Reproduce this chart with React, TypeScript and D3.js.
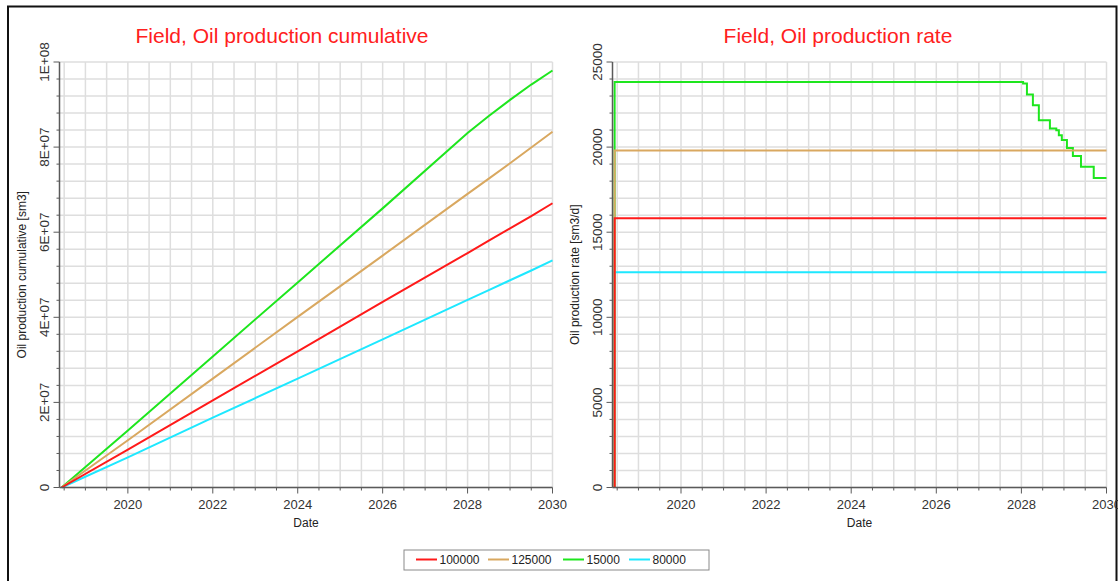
import React from "react";
import * as d3 from "d3";

// ---------- DATA ----------
const seriesNames = ["100000", "125000", "15000", "80000"];
const seriesColors = ["#ff1a1a", "#d9a860", "#1ee61e", "#1ee8ff"];
const drawOrder = [3, 2, 1, 0];

// cumulative (sm3, in millions) at dates (decimal years)
const cumDates = [2018.44, 2020, 2022, 2024, 2026, 2028, 2028.5, 2029, 2029.5, 2030];
const cum100000 = [0, 8.9, 20.5, 32.0, 43.6, 55.1, 58.0, 60.9, 63.8, 66.8];
const cum125000 = [0, 11.1, 25.6, 40.1, 54.5, 69.0, 72.6, 76.2, 79.9, 83.6];
const cum15000 = [0, 13.4, 30.8, 48.2, 65.6, 83.3, 87.3, 91.1, 94.7, 98.0];
const cum80000 = [0, 7.1, 16.4, 25.6, 34.8, 44.1, 46.4, 48.7, 51.0, 53.4];

// rates (sm3/d), step-after
const rateDates100000 = [2018.44, 2018.44, 2030];
const rate100000 = [0, 15820, 15820];
const rateDates125000 = [2018.44, 2018.44, 2030];
const rate125000 = [0, 19800, 19800];
const rateDates15000 = [2018.44, 2018.44, 2028.04, 2028.13, 2028.27, 2028.41, 2028.67, 2028.82, 2028.88, 2028.95, 2029.07, 2029.21, 2029.4, 2029.7, 2030];
const rate15000 = [0, 23820, 23740, 23090, 22460, 21580, 21090, 20990, 20700, 20410, 19940, 19480, 18840, 18190, 18190];
const rateDates80000 = [2018.44, 2018.44, 2030];
const rate80000 = [0, 12650, 12650];

const xTickYears = [2020, 2022, 2024, 2026, 2028, 2030];
const cumTicks = [0, 20, 40, 60, 80, 100];
const cumTickLabels = ["0", "2E+07", "4E+07", "6E+07", "8E+07", "1E+08"];
const rateTicks = [0, 5000, 10000, 15000, 20000, 25000];
const rateTickLabels = ["0", "5000", "10000", "15000", "20000", "25000"];

const FONT = "'Liberation Sans', Arial, sans-serif";

type Pt = [number, number];

const cumSeries: Pt[][] = [cum100000, cum125000, cum15000, cum80000].map((vals) =>
  vals.map((v, i) => [cumDates[i], v] as Pt)
);
const rateSeries: Pt[][] = [
  [rateDates100000, rate100000],
  [rateDates125000, rate125000],
  [rateDates15000, rate15000],
  [rateDates80000, rate80000],
].map(([ds, vs]) => (vs as number[]).map((v, i) => [(ds as number[])[i], v] as Pt));

interface PanelProps {
  id: string;
  left: number;
  right: number;
  top: number;
  bottom: number;
  titleX: number;
  yMax: number;
  gridStep: number;
  ticks: number[];
  tickLabels: string[];
  title: string;
  yTitle: string;
  data: Pt[][];
  step: boolean;
}

function Panel(p: PanelProps) {
  const x = d3.scaleLinear().domain([2018.39, 2030]).range([p.left, p.right]);
  const y = d3.scaleLinear().domain([0, p.yMax]).range([p.bottom, p.top]);
  const xGrid = d3.range(2018.5, 2030.001, 0.5);
  const yGrid = d3.range(0, p.yMax + 1e-9, p.gridStep);
  const line = d3
    .line<Pt>()
    .x((d) => x(d[0]))
    .y((d) => y(d[1]))
    .curve(p.step ? d3.curveStepAfter : d3.curveLinear);
  const cx = (p.left + p.right) / 2;
  const axisColor = "#5a5a5a";
  return (
    <g>
      <defs>
        <clipPath id={p.id}>
          <rect x={p.left} y={p.top - 2} width={p.right - p.left + 1} height={p.bottom - p.top + 3} />
        </clipPath>
      </defs>
      <text x={p.titleX} y={43} textAnchor="middle" fontSize={21} fill="#ff2020" fontFamily={FONT}>
        {p.title}
      </text>
      {xGrid.map((g) => (
        <line key={"xg" + g} x1={x(g)} x2={x(g)} y1={p.top} y2={p.bottom} stroke="#dedede" strokeWidth={1.5} />
      ))}
      {yGrid.map((g) => (
        <line key={"yg" + g} x1={p.left} x2={p.right} y1={y(g)} y2={y(g)} stroke="#dedede" strokeWidth={1.5} />
      ))}
      <g clipPath={`url(#${p.id})`}>
        {drawOrder.map((i) => (
          <path key={i} d={line(p.data[i]) || ""} fill="none" stroke={seriesColors[i]} strokeWidth={2} />
        ))}
      </g>
      {/* axes */}
      <line x1={p.left} x2={p.left} y1={p.top} y2={p.bottom} stroke={axisColor} strokeWidth={1.5} />
      <line x1={p.left} x2={p.right} y1={p.bottom} y2={p.bottom} stroke={axisColor} strokeWidth={1.5} />
      {yGrid.map((g) => {
        const major = p.ticks.some((t) => Math.abs(t - g) < 1e-6);
        return (
          <line key={"yt" + g} x1={p.left - (major ? 6 : 3)} x2={p.left} y1={y(g)} y2={y(g)} stroke={axisColor} strokeWidth={1} />
        );
      })}
      {xGrid.map((g) => {
        const major = xTickYears.some((t) => Math.abs(t - g) < 1e-6);
        return (
          <line key={"xt" + g} x1={x(g)} x2={x(g)} y1={p.bottom} y2={p.bottom + (major ? 6 : 3)} stroke={axisColor} strokeWidth={1} />
        );
      })}
      {xTickYears.map((t) => (
        <text key={"xl" + t} x={x(t)} y={p.bottom + 21} textAnchor="middle" fontSize={13} fill="#333" fontFamily={FONT}>
          {t}
        </text>
      ))}
      {p.ticks.map((t, i) => (
        <text
          key={"yl" + t}
          transform={`translate(${p.left - 11},${y(t)}) rotate(-90)`}
          textAnchor="middle"
          fontSize={13.5}
          fill="#333"
          fontFamily={FONT}
        >
          {p.tickLabels[i]}
        </text>
      ))}
      <text x={cx} y={527} textAnchor="middle" fontSize={12} fill="#222" fontFamily={FONT}>
        Date
      </text>
      <text
        transform={`translate(${p.left - 34},${(p.top + p.bottom) / 2}) rotate(-90)`}
        textAnchor="middle"
        fontSize={12}
        fill="#222"
        fontFamily={FONT}
      >
        {p.yTitle}
      </text>
    </g>
  );
}

export default function App() {
  const legendX = [416, 488, 563, 629];
  return (
    <svg width={1118} height={581} style={{ position: "absolute", left: 0, top: 0, background: "#fff" }}>
      <rect x={8} y={6.5} width={1108.5} height={600} fill="#fff" stroke="#111" strokeWidth={2} />
      <Panel
        id="clipL"
        left={59.5}
        right={552.5}
        top={62}
        bottom={487.5}
        titleX={282}
        yMax={100}
        gridStep={4}
        ticks={cumTicks}
        tickLabels={cumTickLabels}
        title="Field, Oil production cumulative"
        yTitle="Oil production cumulative [sm3]"
        data={cumSeries}
        step={false}
      />
      <Panel
        id="clipR"
        left={612.5}
        right={1106.5}
        top={62}
        bottom={487.5}
        titleX={838}
        yMax={25000}
        gridStep={1000}
        ticks={rateTicks}
        tickLabels={rateTickLabels}
        title="Field, Oil production rate"
        yTitle="Oil production rate [sm3/d]"
        data={rateSeries}
        step={true}
      />
      {/* legend */}
      <rect x={404} y={550} width={305} height={20} fill="#fff" stroke="#8a8a8a" strokeWidth={1} />
      {seriesNames.map((n, i) => (
        <g key={n}>
          <line x1={legendX[i]} x2={legendX[i] + 21} y1={559.5} y2={559.5} stroke={seriesColors[i]} strokeWidth={2} />
          <text x={legendX[i] + 23.5} y={564} fontSize={12} fill="#222" fontFamily={FONT}>
            {n}
          </text>
        </g>
      ))}
    </svg>
  );
}
